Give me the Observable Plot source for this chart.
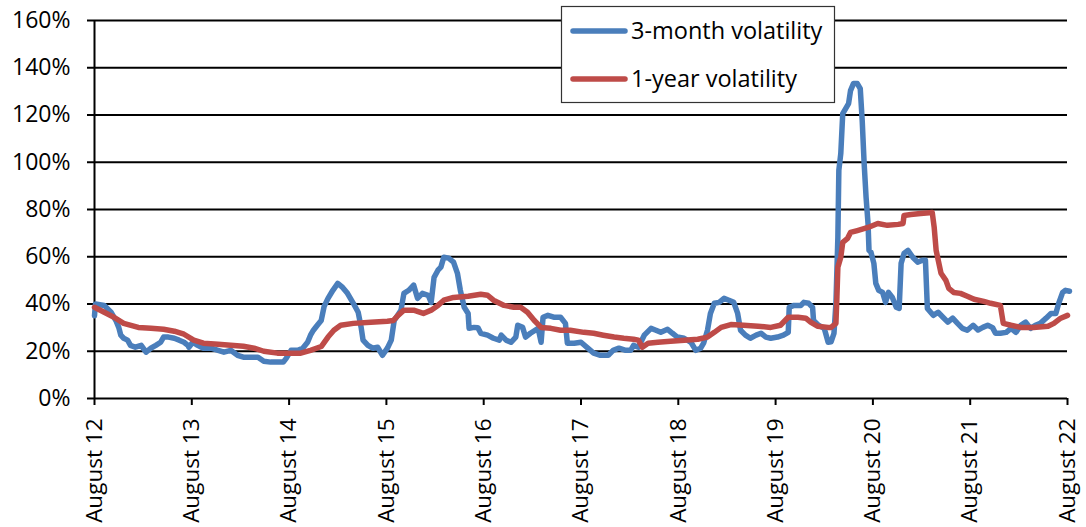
<!DOCTYPE html>
<html>
<head>
<meta charset="utf-8">
<script src="https://cdn.jsdelivr.net/npm/d3@7"></script>
<script src="https://cdn.jsdelivr.net/npm/@observablehq/plot@0.6"></script>
<style>
  body { margin: 0; background: #fff; }
  #wrap { position: relative; width: 1086px; height: 527px; }
  #legend { position: absolute; left: 0; top: 0; }
</style>
</head>
<body>
<div id="wrap"></div>
<script>
// Years since August 2012 (t) and volatility in percent (v)
const seriesNames = ["3-month volatility", "1-year volatility"];
const seriesColors = ["#4A7EBB", "#BE4B48"];
const tickLabels = ["August 12","August 13","August 14","August 15","August 16","August 17","August 18","August 19","August 20","August 21","August 22"];
const tickPositions = [0,1,2,3,4,5,6,7,8,9,10];
const yTicks = [0,20,40,60,80,100,120,140,160];

const threeMonth = [
[0.00,35],[0.01,40],[0.10,39.4],[0.17,36.5],[0.22,33],[0.25,30],[0.27,26.8],[0.30,25.5],[0.34,24.7],[0.37,22.5],
[0.42,21.7],[0.48,22.5],[0.53,19.6],[0.58,21.3],[0.63,22.5],[0.68,23.8],[0.71,26],[0.76,26],[0.82,25.5],[0.87,24.7],
[0.92,23.8],[0.96,22.5],[0.97,21.7],[1.01,23.8],[1.06,22.5],[1.12,21.3],[1.20,21.3],[1.27,20.4],[1.33,19.6],[1.40,20.4],
[1.47,18.3],[1.53,17.5],[1.61,17.5],[1.68,17.5],[1.74,15.8],[1.81,15.4],[1.88,15.4],[1.94,15.4],[1.97,17],[2.02,20.4],
[2.09,20.4],[2.14,21.3],[2.19,23.8],[2.22,26.8],[2.25,28.9],[2.29,31],[2.33,33],[2.36,39],[2.40,42.4],[2.45,45.8],
[2.50,48.7],[2.55,47],[2.60,44.5],[2.66,40.3],[2.71,36.5],[2.74,30.2],[2.76,24.7],[2.81,22.5],[2.86,21.3],[2.91,21.7],
[2.96,18.3],[3.01,21.3],[3.05,24.7],[3.08,33],[3.15,37.4],[3.18,44.5],[3.23,45.8],[3.28,48],[3.32,42.4],[3.37,44.5],
[3.43,43.7],[3.46,40.7],[3.49,51.3],[3.53,54.3],[3.56,55.6],[3.59,59.8],[3.64,59.4],[3.69,57.7],[3.73,53],[3.76,45.8],
[3.80,38.6],[3.84,36],[3.85,29.7],[3.90,30.1],[3.94,30],[3.97,27.6],[4.04,26.8],[4.10,25.5],[4.16,24.7],[4.18,26.8],
[4.23,24.7],[4.28,23.8],[4.33,26],[4.35,31],[4.40,30.1],[4.43,26],[4.48,27.6],[4.56,29.7],[4.59,23.8],[4.61,34.4],
[4.66,35.2],[4.72,34.4],[4.79,34.4],[4.84,31.8],[4.86,23.4],[4.93,23.4],[5.00,23.8],[5.07,21.3],[5.13,19.2],[5.20,18.3],
[5.28,18.3],[5.33,20.4],[5.39,21.3],[5.46,20.4],[5.51,20.4],[5.54,22.5],[5.59,21.7],[5.65,26.8],[5.72,29.7],[5.77,28.9],
[5.82,28],[5.89,29.3],[5.94,27.6],[5.99,26],[6.06,25.5],[6.13,23.8],[6.18,20.4],[6.23,21.3],[6.26,23.4],[6.30,28.9],
[6.33,36],[6.37,40.3],[6.42,40.7],[6.47,42.4],[6.52,41.6],[6.57,40.7],[6.61,36],[6.64,28.9],[6.69,26.8],[6.74,25.5],
[6.80,26.8],[6.85,27.6],[6.90,26],[6.95,25.5],[7.02,26],[7.08,26.8],[7.13,28],[7.14,38.6],[7.19,39.4],[7.26,39.4],
[7.29,40.7],[7.34,40.3],[7.38,38.6],[7.39,33],[7.44,31],[7.50,29.7],[7.54,23.8],[7.57,24],[7.60,27.6],[7.62,40.3],
[7.64,68.2],[7.65,96.6],[7.67,103.7],[7.69,120.6],[7.72,122.7],[7.75,124.8],[7.77,130.3],[7.80,133.3],[7.84,133.3],[7.87,131.2],
[7.89,117.7],[7.91,99.5],[7.93,85.1],[7.95,74.1],[7.96,62.7],[7.98,61.9],[8.01,57.2],[8.03,48.7],[8.06,45.8],[8.10,44.9],
[8.13,40.7],[8.16,44.9],[8.20,42.8],[8.24,38.6],[8.27,38.1],[8.29,57.2],[8.32,61.4],[8.36,62.7],[8.41,59.8],[8.46,57.7],
[8.51,58.5],[8.54,58.5],[8.56,38.1],[8.62,35.2],[8.67,36.5],[8.72,34.4],[8.77,32.3],[8.82,34],[8.87,31.8],[8.92,29.7],
[8.97,28.9],[9.03,31],[9.08,29],[9.13,30.1],[9.18,31],[9.23,30],[9.26,27.6],[9.31,27.6],[9.37,28],[9.42,29.7],
[9.47,28],[9.52,31],[9.57,32.3],[9.62,29.7],[9.67,31],[9.72,31.8],[9.78,34],[9.83,36],[9.88,36],[9.91,40.3],
[9.95,44.9],[9.98,45.8],[10.02,45.4]
];

const oneYear = [
[0.00,38.6],[0.10,36.5],[0.20,34.4],[0.30,31.8],[0.45,30.1],[0.58,29.7],[0.71,29.3],[0.82,28.5],[0.92,27.2],[1.02,24.7],
[1.12,23.4],[1.27,23],[1.40,22.5],[1.53,22.1],[1.64,21.3],[1.74,20],[1.88,19.2],[2.02,19.2],[2.12,19.2],[2.22,20.4],
[2.33,22],[2.40,26],[2.46,28.9],[2.53,31],[2.66,31.8],[2.84,32.3],[3.01,32.7],[3.07,33],[3.12,35.2],[3.18,37.4],
[3.28,37.4],[3.38,36],[3.46,37.4],[3.53,39.4],[3.59,41.6],[3.69,42.8],[3.84,43.3],[3.97,44.1],[4.04,43.7],[4.10,41.6],
[4.21,39.4],[4.31,38.6],[4.38,38.6],[4.45,36.5],[4.52,33],[4.59,30.1],[4.69,29.7],[4.79,28.9],[4.89,28.9],[5.03,28],
[5.13,27.6],[5.23,26.8],[5.34,26],[5.44,25.5],[5.54,25.1],[5.59,24.7],[5.63,21.7],[5.69,23.4],[5.79,23.8],[5.92,24.2],
[6.06,24.7],[6.20,25.1],[6.30,26],[6.37,28],[6.44,30.1],[6.54,31.3],[6.67,31],[6.82,30.6],[6.95,30.1],[7.05,31],
[7.13,34.4],[7.23,34.4],[7.31,34],[7.36,32.3],[7.43,30.6],[7.54,30.1],[7.57,30.1],[7.62,31.8],[7.63,42.8],[7.64,55.6],
[7.67,59.8],[7.69,66.1],[7.74,67.8],[7.77,70.3],[7.84,71.1],[7.95,72.4],[8.05,74.1],[8.15,73.3],[8.26,73.7],[8.31,74.1],
[8.32,77.5],[8.39,77.9],[8.49,78.3],[8.61,78.7],[8.63,72.4],[8.65,62.7],[8.70,53],[8.75,50],[8.78,46.6],[8.83,44.9],
[8.90,44.5],[8.97,43.3],[9.04,42],[9.14,41.1],[9.21,40.3],[9.31,39.4],[9.34,31.8],[9.42,31],[9.52,30.1],[9.65,30.1],
[9.80,30.6],[9.86,31.8],[9.93,34],[10.00,35.2]
];

const font = "'Open Sans', 'Noto Sans', sans-serif";

const chart = Plot.plot({
  width: 1086,
  height: 527,
  marginTop: 20,
  marginBottom: 129,
  marginLeft: 94,
  marginRight: 19,
  x: { domain: [0, 10] },
  y: { domain: [0, 160] },
  style: { fontFamily: font, fontSize: "23px", color: "#000", background: "#fff", overflow: "visible" },
  marks: [
    Plot.ruleY(yTicks, { stroke: "#000", strokeWidth: 2 }),
    Plot.axisY({ ticks: yTicks, tickSize: 7, tickPadding: 17, tickFormat: d => d + "%", label: null, fontSize: 23, strokeWidth: 2, strokeOpacity: 1 }),
    Plot.axisX({ ticks: tickPositions, tickSize: 7, tickPadding: 13, tickRotate: -90, tickFormat: i => tickLabels[i], label: null, fontSize: 22.5, strokeWidth: 2, strokeOpacity: 1 }),
    Plot.ruleX([0], { stroke: "#000", strokeWidth: 2 }),
    Plot.line(threeMonth, { x: d => d[0], y: d => d[1], stroke: seriesColors[0], strokeWidth: 5.5, strokeLinejoin: "round", strokeLinecap: "round" }),
    Plot.line(oneYear, { x: d => d[0], y: d => d[1], stroke: seriesColors[1], strokeWidth: 5.5, strokeLinejoin: "round", strokeLinecap: "round" })
  ]
});

const wrap = document.getElementById("wrap");
wrap.appendChild(chart);

// Legend overlay
const leg = d3.select(wrap).append("svg")
  .attr("id", "legend")
  .attr("width", 1086).attr("height", 527)
  .style("pointer-events", "none");
leg.append("rect")
  .attr("x", 561.5).attr("y", 6.5).attr("width", 273).attr("height", 96)
  .attr("fill", "#fff").attr("stroke", "#333").attr("stroke-width", 1.2);
seriesNames.forEach((name, i) => {
  const cy = 31 + i * 48;
  leg.append("line")
    .attr("x1", 573).attr("x2", 625).attr("y1", cy).attr("y2", cy)
    .attr("stroke", seriesColors[i]).attr("stroke-width", 5.5).attr("stroke-linecap", "round");
  leg.append("text")
    .attr("x", 631).attr("y", cy + 8)
    .attr("font-family", font).attr("font-size", 23.5).attr("fill", "#000")
    .text(name);
});
</script>
</body>
</html>
